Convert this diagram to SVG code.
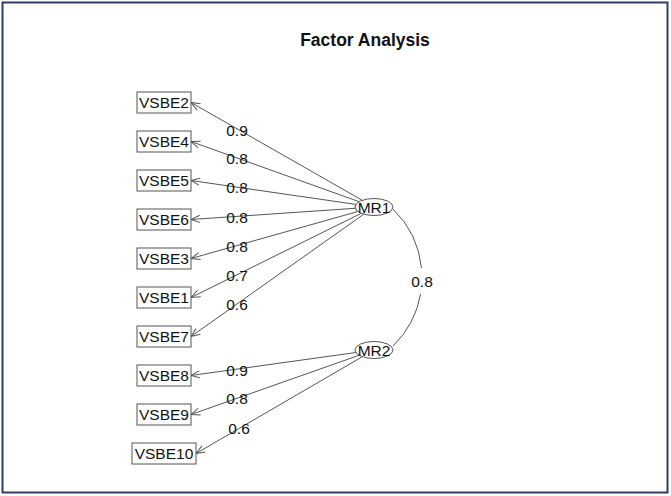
<svg xmlns="http://www.w3.org/2000/svg" width="671" height="496" viewBox="0 0 671 496">
<style>
text{font-family:"Liberation Sans",Arial,sans-serif;fill:#111}
.title{font-size:17.5px;font-weight:bold;text-anchor:middle}
.lbl{font-size:15.5px;text-anchor:middle}
.nm{font-size:15.5px;text-anchor:middle}
.box{fill:#fff;stroke:#555;stroke-width:1}
.ell{fill:#fff;stroke:#555;stroke-width:1}
.edge{stroke:#555;stroke-width:1;fill:none;marker-end:url(#ah)}
.arc{stroke:#555;stroke-width:1;fill:none}
</style>
<defs>
<marker id="ah" viewBox="0 0 10 10" refX="10" refY="5" markerWidth="9" markerHeight="9" markerUnits="userSpaceOnUse" orient="auto">
<path d="M0,1 L10,5 L0,9" fill="none" stroke="#555" stroke-width="1.1"/>
</marker>
</defs>
<rect x="0" y="0" width="671" height="496" fill="#fff"/>
<rect x="2.5" y="2.5" width="665" height="490" fill="none" stroke="#2e3f63" stroke-width="2"/>
<text class="title" x="365" y="45.5">Factor Analysis</text>
<g id="connectors">
<line class="edge" x1="362.3" y1="200.3" x2="191" y2="102.5"/>
<line class="edge" x1="359.2" y1="201.7" x2="191" y2="141.5"/>
<line class="edge" x1="355.9" y1="204.4" x2="191" y2="180.5"/>
<line class="edge" x1="355.2" y1="208.3" x2="191" y2="219.5"/>
<line class="edge" x1="357.9" y1="211.5" x2="191" y2="258.5"/>
<line class="edge" x1="361.3" y1="213.3" x2="191" y2="297.5"/>
<line class="edge" x1="363.8" y1="214.2" x2="191" y2="336.5"/>
<line class="edge" x1="355.9" y1="352.5" x2="191" y2="375.5"/>
<line class="edge" x1="359.1" y1="355.3" x2="191" y2="414.5"/>
<line class="edge" x1="362.4" y1="356.7" x2="196" y2="453.5"/>
<path class="arc" d="M393,209 A95.4,95.4 0 0 1 421.5,268 M420.6,294 A95.4,95.4 0 0 1 393,346"/>
<text class="lbl" x="237" y="135.5">0.9</text>
<text class="lbl" x="237" y="163.5">0.8</text>
<text class="lbl" x="237" y="193">0.8</text>
<text class="lbl" x="237" y="222.5">0.8</text>
<text class="lbl" x="237" y="251.5">0.8</text>
<text class="lbl" x="237" y="280.5">0.7</text>
<text class="lbl" x="237" y="310">0.6</text>
<text class="lbl" x="237" y="375.5">0.9</text>
<text class="lbl" x="237" y="404">0.8</text>
<text class="lbl" x="239" y="434">0.6</text>
<text class="lbl" x="422" y="286.5">0.8</text>
</g>
<g id="VSBE2"><rect class="box" x="137" y="92" width="54" height="21"/><text class="nm" x="164" y="108">VSBE2</text></g>
<g id="VSBE4"><rect class="box" x="137" y="131" width="54" height="21"/><text class="nm" x="164" y="147">VSBE4</text></g>
<g id="VSBE5"><rect class="box" x="137" y="170" width="54" height="21"/><text class="nm" x="164" y="186">VSBE5</text></g>
<g id="VSBE6"><rect class="box" x="137" y="209" width="54" height="21"/><text class="nm" x="164" y="225">VSBE6</text></g>
<g id="VSBE3"><rect class="box" x="137" y="248" width="54" height="21"/><text class="nm" x="164" y="264">VSBE3</text></g>
<g id="VSBE1"><rect class="box" x="137" y="287" width="54" height="21"/><text class="nm" x="164" y="303">VSBE1</text></g>
<g id="VSBE7"><rect class="box" x="137" y="326" width="54" height="21"/><text class="nm" x="164" y="342">VSBE7</text></g>
<g id="VSBE8"><rect class="box" x="137" y="365" width="54" height="21"/><text class="nm" x="164" y="381">VSBE8</text></g>
<g id="VSBE9"><rect class="box" x="137" y="404" width="54" height="21"/><text class="nm" x="164" y="420">VSBE9</text></g>
<g id="VSBE10"><rect class="box" x="132" y="443" width="64" height="21"/><text class="nm" x="164" y="459">VSBE10</text></g>
<g id="MR1"><ellipse class="ell" cx="374" cy="207" rx="19" ry="8.5"/><text class="nm" x="374" y="212.5">MR1</text></g>
<g id="MR2"><ellipse class="ell" cx="374" cy="350" rx="19" ry="8.5"/><text class="nm" x="374" y="355.5">MR2</text></g>
</svg>
